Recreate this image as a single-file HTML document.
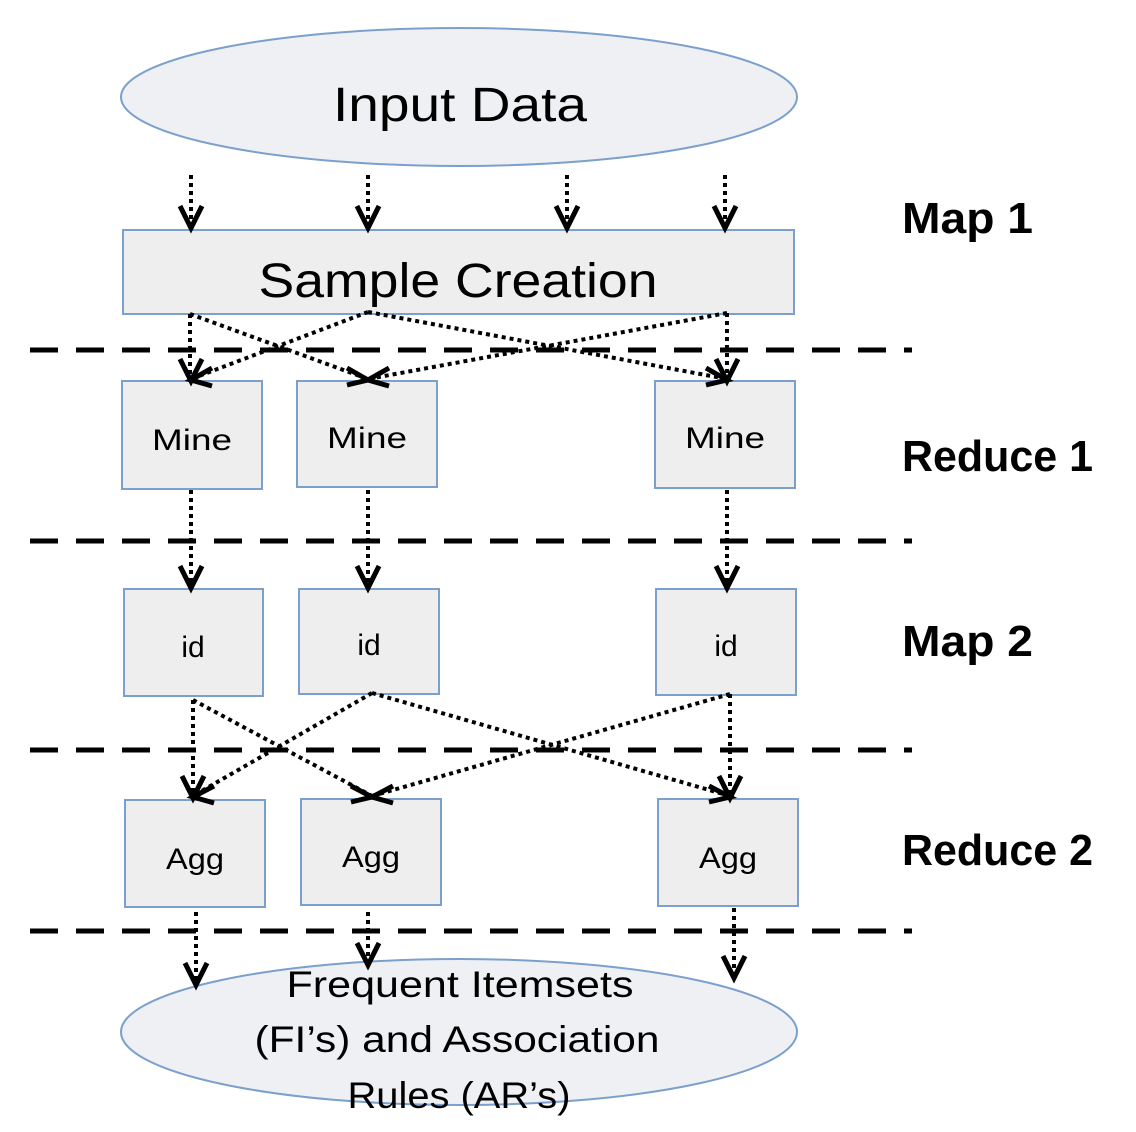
<!DOCTYPE html>
<html><head><meta charset="utf-8"><style>body{margin:0;background:#fff}svg{display:block}</style></head>
<body>
<svg width="1136" height="1132" viewBox="0 0 1136 1132" xmlns="http://www.w3.org/2000/svg" font-family="Liberation Sans, sans-serif">
<g fill="#eeeeee" stroke="#7ba0cc" stroke-width="2">
<ellipse cx="459" cy="97" rx="338" ry="69" fill="#eef0f4"/>
<rect x="123" y="230" width="671" height="84"/>
<rect x="122" y="381" width="140" height="108"/>
<rect x="297" y="381" width="140" height="106"/>
<rect x="655" y="381" width="140" height="107"/>
<rect x="124" y="589" width="139" height="107"/>
<rect x="299" y="589" width="140" height="105"/>
<rect x="656" y="589" width="140" height="106"/>
<rect x="125" y="800" width="140" height="107"/>
<rect x="301" y="799" width="140" height="106"/>
<rect x="658" y="799" width="140" height="107"/>
<ellipse cx="459" cy="1032" rx="338" ry="73" fill="#eef0f4"/>
</g>
<g stroke="#000" stroke-width="5" stroke-dasharray="28 18">
<line x1="30" y1="350" x2="912" y2="350"/>
<line x1="30" y1="541" x2="912" y2="541"/>
<line x1="30" y1="750" x2="912" y2="750"/>
<line x1="30" y1="931" x2="912" y2="931"/>
</g>
<g stroke="#000" stroke-width="4" stroke-dasharray="4 4" fill="none">
<path d="M191 175V226M368 175V226M567 175V226M725 175V226"/>
<path d="M190 314V379M368 312L191 379M190 314L368 379M368 312L727 379M727 313L368 379M727 313V379"/>
<path d="M191 490V586M368 490V586M727 490V586"/>
<path d="M193 700V796M372 693L193 796M193 700L372 796M372 693L730 796M730 694L372 796M730 694V796"/>
<path d="M196 912V982M368 912V962M734 908V975"/>
</g>
<g stroke="#000" stroke-width="5" fill="none" stroke-linejoin="miter">
<path d="M180 206L191 228L202 206M357 206L368 228L379 206M556 206L567 228L578 206M714 206L725 228L736 206"/>
<path d="M180 359L191 381L202 359M716 359L727 381L738 359"/>
<path d="M212 368L191 380L212 386M347 368L368 380L347 385M389 368L368 380L389 386M706 368L727 380L706 385"/>
<path d="M180 566L191 588L202 566M357 566L368 588L379 566M716 566L727 588L738 566"/>
<path d="M182 776L193 798L204 776M719 776L730 798L741 776"/>
<path d="M214 786L193 797L214 803M351 786L372 797L351 802M393 786L372 797L393 803M709 786L730 797L709 802"/>
<path d="M185 963L196 985L207 963M357 943L368 965L379 943M723 956L734 978L745 956"/>
</g>
<g text-anchor="middle" fill="#000" font-family="Liberation Sans, DejaVu Sans, sans-serif">
<text x="460" y="121" font-size="48" textLength="254" lengthAdjust="spacingAndGlyphs">Input Data</text>
<text x="458" y="297" font-size="48" textLength="399" lengthAdjust="spacingAndGlyphs">Sample Creation</text>
<text x="192" y="450" font-size="30" textLength="80" lengthAdjust="spacingAndGlyphs">Mine</text>
<text x="367" y="448" font-size="30" textLength="80" lengthAdjust="spacingAndGlyphs">Mine</text>
<text x="725" y="448" font-size="30" textLength="80" lengthAdjust="spacingAndGlyphs">Mine</text>
<text x="193" y="657" font-size="30">id</text>
<text x="369" y="655" font-size="30">id</text>
<text x="726" y="656" font-size="30">id</text>
<text x="195" y="869" font-size="30" textLength="58" lengthAdjust="spacingAndGlyphs">Agg</text>
<text x="371" y="867" font-size="30" textLength="58" lengthAdjust="spacingAndGlyphs">Agg</text>
<text x="728" y="868" font-size="30" textLength="58" lengthAdjust="spacingAndGlyphs">Agg</text>
<text x="460" y="997" font-size="37" textLength="347" lengthAdjust="spacingAndGlyphs">Frequent Itemsets</text>
<text x="457" y="1052" font-size="37" textLength="405" lengthAdjust="spacingAndGlyphs">(FI’s) and Association</text>
<text x="459" y="1108" font-size="37" textLength="223" lengthAdjust="spacingAndGlyphs">Rules (AR’s)</text>
</g>
<g font-weight="bold" font-size="44" fill="#000">
<text x="902" y="233" textLength="131" lengthAdjust="spacingAndGlyphs">Map 1</text>
<text x="902" y="471" textLength="191" lengthAdjust="spacingAndGlyphs">Reduce 1</text>
<text x="902" y="656" textLength="131" lengthAdjust="spacingAndGlyphs">Map 2</text>
<text x="902" y="865" textLength="191" lengthAdjust="spacingAndGlyphs">Reduce 2</text>
</g>
</svg>
</body></html>
